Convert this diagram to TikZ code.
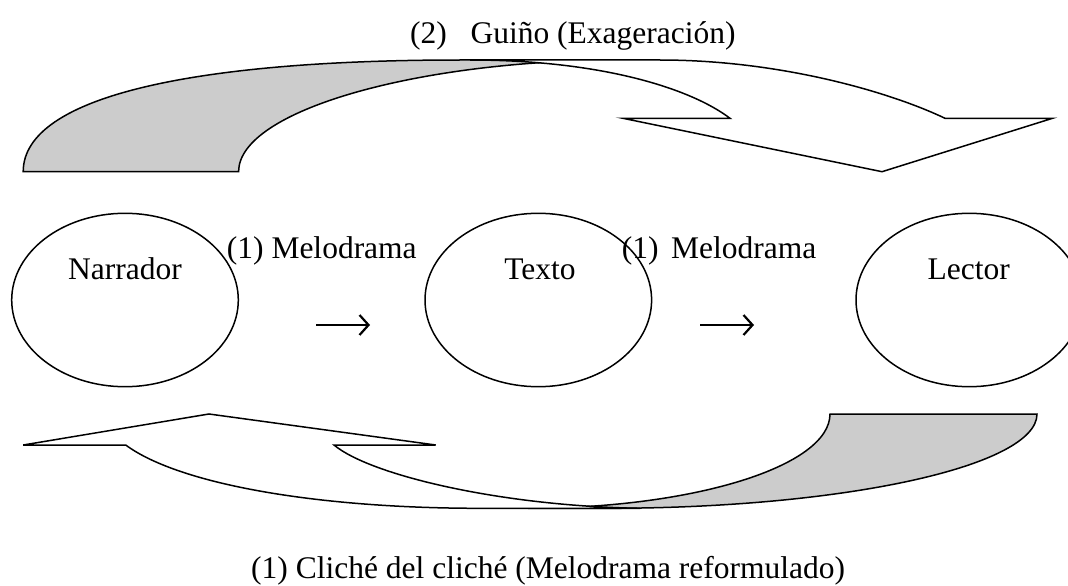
\documentclass[tikz,border=0pt]{standalone}
\usepackage{fontspec}
\setmainfont{Liberation Serif}
\usetikzlibrary{arrows.meta,shapes.geometric}
\definecolor{tailgray}{HTML}{CCCCCC}
\begin{document}
\begin{tikzpicture}[x=1pt,y=-1pt,
  lbl/.style={font=\fontsize{31.5}{36}\selectfont, inner sep=0pt},
  oval/.style={draw, ellipse, line width=1.5pt, minimum width=226.6pt, minimum height=173.4pt, inner sep=0pt},
  band/.style={draw, line width=1.5pt, line join=miter},
  tailfill/.style={band, fill=tailgray},
  bodyfill/.style={band, fill=white},
  glypharrow/.style={line width=2.2pt, -{Straight Barb[length=9pt,width=20pt,line width=2.2pt]}}]
\useasboundingbox (0,0) rectangle (1068,586);
\clip (0,0) rectangle (1068,586);

% top curved arrow: tail (grey) then body (white)
\path[tailfill] (23.2,171.7) .. controls (23.2,95) and (200,60) .. (460,60) -- (620,60)
  .. controls (420,60) and (238.6,110) .. (238.6,171.7) -- cycle;
\path[bodyfill] (470,60) -- (660,60) .. controls (780,60) and (890,92) .. (945,118.3)
  -- (1052.5,118.3) -- (882,171.7) -- (623,118.3) -- (730,118.3)
  .. controls (690,88) and (600,60) .. (470,60) -- cycle;

% bottom curved arrow
\path[tailfill] (830,414) -- (1037,414) .. controls (1037,466) and (844.4,508.3) .. (607,508.3)
  -- (528,508.3) .. controls (694.7,508.3) and (830,466) .. (830,414) -- cycle;
\path[bodyfill] (125.7,445) -- (23.2,445) -- (209,414) -- (435.7,445) -- (334,445)
  .. controls (370,475) and (500,506) .. (640,508.3) -- (480,508.3)
  .. controls (320,508.3) and (180,485) .. (125.7,445) -- cycle;

% ellipses
\node[oval] (nar) at (125,300) {};
\node[oval] (tex) at (538.3,300) {};
\node[oval] (lec) at (969.3,300) {};

% texts
\node[lbl, anchor=base] (tnar) at (125,279.3) {Narrador};
\node[lbl, anchor=base] (ttex) at (540,279.3) {Texto};
\node[lbl, anchor=base] (tlec) at (968.8,279.3) {Lector};
\node[lbl, anchor=base west] (mel1) at (226.7,258) {(1) Melodrama};
\node[lbl, anchor=base west] (mel2) at (621.7,258) {(1)\hspace{0.4em}Melodrama};
\node[lbl, anchor=base west] (title) at (410,43.3) {(2)\hspace{0.75em}Guiño (Exageración)};
\node[lbl, anchor=base west] (bottom) at (251,578) {(1) Cliché del cliché (Melodrama reformulado)};

% arrow glyphs
\coordinate (a1s) at (316,325);
\coordinate (a1e) at (370,325);
\coordinate (a2s) at (700,325);
\coordinate (a2e) at (754,325);
\draw[glypharrow] (a1s) -- (a1e);
\draw[glypharrow] (a2s) -- (a2e);
\end{tikzpicture}
\end{document}
